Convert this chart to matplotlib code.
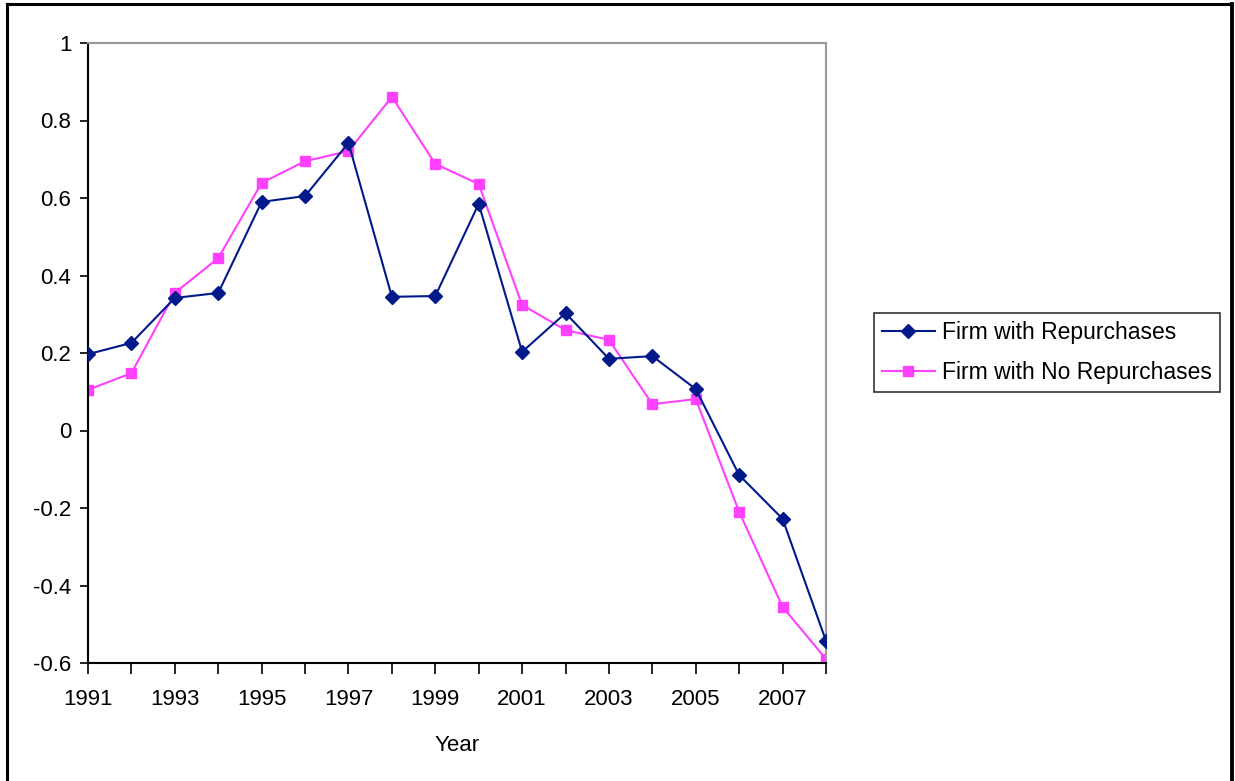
import matplotlib
matplotlib.use("Agg")
import matplotlib.pyplot as plt
from matplotlib.lines import Line2D

plt.rcParams['font.family'] = ['Liberation Sans', 'DejaVu Sans']

years = list(range(1991, 2009))
repurchases = [0.197, 0.226, 0.342, 0.355, 0.590, 0.605, 0.742, 0.345, 0.347,
               0.585, 0.203, 0.303, 0.185, 0.192, 0.107, -0.115, -0.228, -0.543]
no_repurchases = [0.105, 0.148, 0.355, 0.445, 0.639, 0.695, 0.721, 0.861, 0.688,
                  0.636, 0.324, 0.259, 0.234, 0.068, 0.081, -0.210, -0.455, -0.590]
series_names = ["Firm with Repurchases", "Firm with No Repurchases"]
y_ticks = [-0.6, -0.4, -0.2, 0, 0.2, 0.4, 0.6, 0.8, 1]
y_tick_labels = ["-0.6", "-0.4", "-0.2", "0", "0.2", "0.4", "0.6", "0.8", "1"]
x_label_years = list(range(1991, 2008, 2))

W, H = 1235, 781
fig = plt.figure(figsize=(W / 100, H / 100), dpi=100)

# outer chart border (open at the bottom)
fig.add_artist(Line2D([7 / W, 7 / W], [0, 1 - 4 / H], transform=fig.transFigure,
                      color="black", lw=2.2))
fig.add_artist(Line2D([7 / W, 1232 / W], [1 - 4 / H, 1 - 4 / H], transform=fig.transFigure,
                      color="black", lw=2.2))
fig.add_artist(Line2D([1232 / W, 1232 / W], [0, 1 - 4 / H], transform=fig.transFigure,
                      color="black", lw=2.8))

left, right, top, bottom = 88, 826, 43, 663
ax = fig.add_axes([left / W, 1 - bottom / H, (right - left) / W, (bottom - top) / H])

blue = "#001a8c"
pink = "#ff40ff"
ax.plot(years, repurchases, color=blue, lw=1.5, marker="D", ms=7.5,
        markeredgecolor=blue, markerfacecolor=blue, label=series_names[0], zorder=3)
ax.plot(years, no_repurchases, color=pink, lw=1.5, marker="s", ms=7.5,
        markeredgecolor=pink, markerfacecolor=pink, label=series_names[1], zorder=2)

ax.set_xlim(1991, 2008)
ax.set_ylim(-0.6, 1)
ax.set_yticks(y_ticks)
ax.set_yticklabels(y_tick_labels, fontsize=16)
ax.set_xticks(years)
ax.set_xticklabels([str(y) if y in x_label_years else "" for y in years], fontsize=16)
ax.tick_params(axis="y", direction="out", length=6, width=1.2, pad=6)
ax.tick_params(axis="x", direction="out", length=8, width=1.2, pad=11)

for side in ("left", "bottom"):
    ax.spines[side].set_color("black")
    ax.spines[side].set_linewidth(1.5)
for side in ("top", "right"):
    ax.spines[side].set_color("#999999")
    ax.spines[side].set_linewidth(1.5)

ax.set_xlabel("Year", fontsize=16, labelpad=18)

leg = fig.legend(loc="upper left", bbox_to_anchor=(874 / W, 1 - 313 / H),
                 fontsize=16.5, frameon=True, fancybox=False, borderpad=0.35,
                 handlelength=2.3, handletextpad=0.3, labelspacing=0.75,
                 borderaxespad=0, markerscale=0.9)
leg.get_frame().set_edgecolor("black")
leg.get_frame().set_linewidth(1.2)

fig.savefig("out.png", dpi=100)
